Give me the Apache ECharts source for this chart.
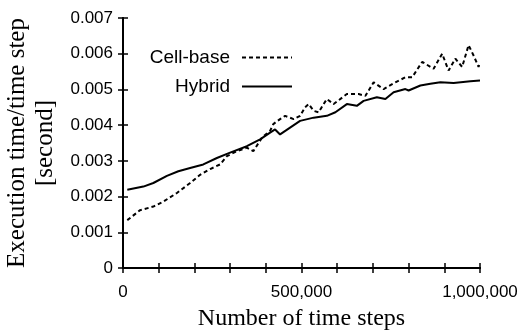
<!DOCTYPE html>
<html>
<head>
<meta charset="utf-8">
<script src="https://cdn.jsdelivr.net/npm/echarts@6/dist/echarts.min.js"></script>
<style>
  html, body { margin: 0; padding: 0; background: #fff; }
  #chart { width: 525px; height: 331px; }
</style>
</head>
<body>
<div id="chart"></div>
<script>
// time steps (x) and execution time per step in seconds (y)
const cellSteps = [12000, 48000, 85000, 113000, 151000, 188000, 216000, 244000, 272000, 291000,
  319000, 347000, 365000, 390000, 412000, 421000, 440000, 454000, 478000, 496000,
  510000, 520000, 534000, 548000, 562000, 571000, 590000, 627000, 660000, 679000,
  702000, 730000, 763000, 791000, 810000, 838000, 870000, 894000, 912000, 931000,
  950000, 968000, 982000, 996000, 1000000];
const cellBase = [0.00134, 0.00162, 0.00172, 0.00186, 0.00210, 0.00238, 0.00261, 0.00277, 0.00290, 0.00313,
  0.00327, 0.00337, 0.00327, 0.00366, 0.00384, 0.00403, 0.00417, 0.00426, 0.00417, 0.00426,
  0.00450, 0.00459, 0.00440, 0.00436, 0.00459, 0.00473, 0.00459, 0.00487, 0.00487, 0.00482,
  0.00520, 0.00501, 0.00520, 0.00534, 0.00534, 0.00577, 0.00558, 0.00600, 0.00553, 0.00586,
  0.00563, 0.00624, 0.00595, 0.00563, 0.00577];

const hybridSteps = [12000, 57000, 85000, 123000, 155000, 188000, 225000, 263000, 300000, 347000,
  384000, 412000, 426000, 440000, 468000, 496000, 534000, 571000, 595000, 627000,
  655000, 674000, 711000, 735000, 758000, 791000, 800000, 833000, 861000, 889000,
  926000, 973000, 1000000];
const hybrid = [0.00219, 0.00228, 0.00238, 0.00258, 0.00271, 0.00280, 0.00290, 0.00308, 0.00323, 0.00341,
  0.00360, 0.00379, 0.00388, 0.00374, 0.00393, 0.00412, 0.00421, 0.00426, 0.00436, 0.00459,
  0.00454, 0.00468, 0.00478, 0.00473, 0.00492, 0.00501, 0.00497, 0.00511, 0.00516, 0.00520,
  0.00518, 0.00523, 0.00525];

const chart = echarts.init(document.getElementById('chart'));

const axisLine = { show: true, lineStyle: { color: '#000', width: 2 } };
const axisTick = { show: true, inside: true, length: 5, lineStyle: { color: '#000', width: 1.5 } };
const sans = 'Liberation Sans';
const serif = 'Liberation Serif';

// one legend per item so text can sit right-aligned before its line sample
const legendItem = (name, top) => ({
  data: [name],
  align: 'right',
  right: 227,
  top: top,
  itemWidth: 50,
  itemHeight: 14,
  itemStyle: { opacity: 0 },
  textStyle: { fontFamily: sans, fontSize: 19, color: '#000', padding: [0, 7, 0, 0] }
});

const option = {
  animation: false,
  backgroundColor: '#fff',
  grid: { left: 123, right: 45, top: 18, bottom: 63, outerBoundsMode: 'none' },
  legend: [legendItem('Cell-base', 43), legendItem('Hybrid', 72)],
  xAxis: [
    {
      type: 'value',
      min: 0, max: 1000000, interval: 100000,
      axisLine: axisLine, axisTick: axisTick,
      splitLine: { show: false },
      axisLabel: {
        margin: 16, fontFamily: sans, fontSize: 17, color: '#000',
        formatter: v => v % 500000 === 0 ? v.toLocaleString('en-US') : ''
      },
      name: 'Number of time steps',
      nameLocation: 'middle',
      nameGap: 39,
      nameTextStyle: { fontFamily: serif, fontSize: 24, color: '#000' }
    },
    {
      type: 'value', position: 'top',
      min: 0, max: 1000000, interval: 100000,
      axisLine: axisLine, axisTick: axisTick,
      axisLabel: { show: false }, splitLine: { show: false }
    }
  ],
  yAxis: [
    {
      type: 'value',
      min: 0, max: 0.007, interval: 0.001,
      axisLine: axisLine, axisTick: axisTick,
      splitLine: { show: false },
      axisLabel: {
        margin: 10, fontFamily: sans, fontSize: 17, color: '#000',
        formatter: v => v === 0 ? '0' : v.toFixed(3)
      },
      name: 'Execution time/time step\n[second]',
      nameLocation: 'middle',
      nameGap: 59,
      nameRotate: 90,
      nameTextStyle: { fontFamily: serif, fontSize: 25, lineHeight: 28, color: '#000' }
    },
    {
      type: 'value', position: 'right',
      min: 0, max: 0.007, interval: 0.001,
      axisLine: axisLine, axisTick: axisTick,
      axisLabel: { show: false }, splitLine: { show: false }
    }
  ],
  series: [
    {
      name: 'Cell-base',
      type: 'line',
      symbol: 'none',
      lineStyle: { color: '#000', width: 2, type: [4, 3] },
      itemStyle: { color: '#000' },
      data: cellSteps.map((s, i) => [s, cellBase[i]])
    },
    {
      name: 'Hybrid',
      type: 'line',
      symbol: 'none',
      lineStyle: { color: '#000', width: 2 },
      itemStyle: { color: '#000' },
      data: hybridSteps.map((s, i) => [s, hybrid[i]])
    }
  ]
};

option && chart.setOption(option);
</script>
</body>
</html>
